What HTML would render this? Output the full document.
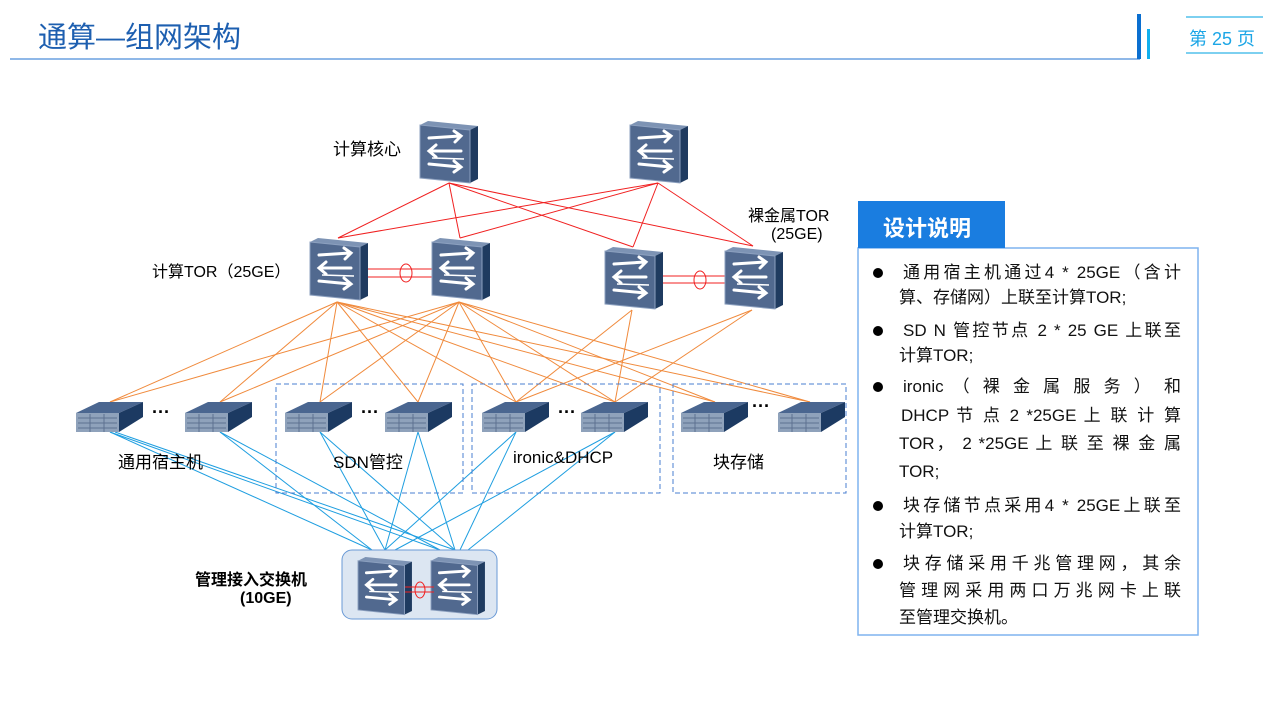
<!DOCTYPE html>
<html><head><meta charset="utf-8"><style>
body{margin:0;width:1280px;height:720px;background:#fff;position:relative;overflow:hidden;font-family:"Liberation Sans","Noto Sans CJK SC",sans-serif;}
.a{position:absolute;white-space:nowrap;}
.t{position:absolute;left:899px;width:282px;font-size:17px;color:#111;line-height:22px;white-space:nowrap;}
.j{text-align:justify;text-align-last:justify;}
.b{position:absolute;left:873px;width:10px;height:10px;border-radius:50%;background:#000;}
</style></head><body>
<div class="a" style="left:38px;top:14px;font-size:29px;color:#1d5fb0;">通算—组网架构</div>
<div class="a" style="left:10px;top:58px;width:1130px;height:2px;background:#8fb8e8;"></div>
<div class="a" style="left:1137px;top:14px;width:4px;height:45px;background:#0a6fd0;"></div>
<div class="a" style="left:1147px;top:29px;width:3px;height:30px;background:#12b0ee;"></div>
<div class="a" style="left:1186px;top:16px;width:77px;height:2px;background:#7dd0f0;"></div>
<div class="a" style="left:1186px;top:52px;width:77px;height:2px;background:#7dd0f0;"></div>
<div class="a" style="left:1189px;top:25px;font-size:18px;color:#1ca6e6;">第 25 页</div>

<svg class="a" style="left:0;top:0" width="1280" height="720">
<defs>
<g id="sw">
<polygon points="0,4 8,0 58,5 50,9" fill="#7d93b4"/>
<polygon points="50,9 58,5 58,58 50,62" fill="#1f3b60"/>
<polygon points="0,4 50,9 50,62 0,57" fill="#51698f" stroke="#8ca0bf" stroke-width="1"/>
<g stroke="#fff" stroke-width="3" fill="none" stroke-linecap="round">
<path d="M9,17 L40,15 M34,10 L41,15 L35,21"/>
<path d="M41,30 L10,30 M16,24 L9,30 L16,36"/>
<path d="M9,43 L40,46 M34,40 L41,46 L34,51"/>
</g>
<line x1="12" y1="37" x2="44" y2="38" stroke="#fff" stroke-width="1.5"/>
</g>
<g id="sv">
<polygon points="0,11 23,0 67,0 43,11" fill="#4a6690"/>
<polygon points="43,11 67,0 67,15 43,30" fill="#1c3a62"/>
<rect x="0" y="11" width="43" height="19" fill="#8fa2bb"/>
<g stroke="#5d7190" stroke-width="1"><line x1="2" y1="16" x2="41" y2="16"/><line x1="2" y1="21" x2="41" y2="21"/><line x1="2" y1="26" x2="41" y2="26"/><line x1="14" y1="12" x2="14" y2="30"/><line x1="28" y1="12" x2="28" y2="30"/></g>
</g>
</defs>
<g stroke="#f02020" stroke-width="1" fill="none">
<line x1="449" y1="183" x2="338" y2="238"/><line x1="449" y1="183" x2="460" y2="238"/><line x1="449" y1="183" x2="633" y2="247"/><line x1="449" y1="183" x2="753" y2="246"/>
<line x1="658" y1="183" x2="338" y2="238"/><line x1="658" y1="183" x2="460" y2="238"/><line x1="658" y1="183" x2="633" y2="247"/><line x1="658" y1="183" x2="753" y2="246"/>
<line x1="366" y1="269" x2="434" y2="269"/><line x1="366" y1="277" x2="434" y2="277"/><ellipse cx="406" cy="273" rx="6" ry="9"/>
<line x1="660" y1="276" x2="727" y2="276"/><line x1="660" y1="283" x2="727" y2="283"/><ellipse cx="700" cy="280" rx="6" ry="9"/>
</g>
<g stroke="#f08a3c" stroke-width="1">
<line x1="337" y1="302" x2="110" y2="402"/><line x1="337" y1="302" x2="220" y2="402"/><line x1="337" y1="302" x2="320" y2="402"/><line x1="337" y1="302" x2="418" y2="402"/><line x1="337" y1="302" x2="516" y2="402"/><line x1="337" y1="302" x2="615" y2="402"/><line x1="337" y1="302" x2="715" y2="402"/><line x1="337" y1="302" x2="810" y2="402"/>
<line x1="459" y1="302" x2="110" y2="402"/><line x1="459" y1="302" x2="220" y2="402"/><line x1="459" y1="302" x2="320" y2="402"/><line x1="459" y1="302" x2="418" y2="402"/><line x1="459" y1="302" x2="516" y2="402"/><line x1="459" y1="302" x2="615" y2="402"/><line x1="459" y1="302" x2="715" y2="402"/><line x1="459" y1="302" x2="810" y2="402"/>
<line x1="632" y1="310" x2="516" y2="402"/><line x1="632" y1="310" x2="615" y2="402"/><line x1="752" y1="310" x2="516" y2="402"/><line x1="752" y1="310" x2="615" y2="402"/>
</g>
<g stroke="#1e9ee0" stroke-width="1">
<line x1="110" y1="432" x2="372" y2="550"/><line x1="110" y1="432" x2="440" y2="550"/><line x1="115" y1="432" x2="455" y2="550"/>
<line x1="220" y1="432" x2="372" y2="550"/><line x1="220" y1="432" x2="440" y2="550"/>
<line x1="320" y1="432" x2="385" y2="550"/><line x1="320" y1="432" x2="455" y2="550"/>
<line x1="418" y1="432" x2="385" y2="550"/><line x1="418" y1="432" x2="455" y2="550"/>
<line x1="516" y1="432" x2="385" y2="550"/><line x1="516" y1="432" x2="460" y2="550"/>
<line x1="615" y1="432" x2="395" y2="550"/><line x1="615" y1="432" x2="468" y2="550"/>
</g>
<g stroke="#4a7fd0" stroke-width="1" stroke-dasharray="5,3" fill="none">
<rect x="276" y="384" width="187" height="109"/><rect x="472" y="384" width="188" height="109"/><rect x="673" y="384" width="173" height="109"/>
</g>
<use href="#sw" x="420" y="121"/><use href="#sw" x="630" y="121"/>
<use href="#sw" x="310" y="238"/><use href="#sw" x="432" y="238"/><use href="#sw" x="605" y="247"/><use href="#sw" x="725" y="247"/>
<use href="#sv" x="76" y="402"/><use href="#sv" x="185" y="402"/><use href="#sv" x="285" y="402"/><use href="#sv" x="385" y="402"/><use href="#sv" x="482" y="402"/><use href="#sv" x="581" y="402"/><use href="#sv" x="681" y="402"/><use href="#sv" x="778" y="402"/>
<rect x="342" y="550" width="155" height="69" rx="10" fill="#dce6f2" stroke="#6a9ad6"/>
<g transform="translate(358,557) scale(0.93)"><use href="#sw"/></g>
<g transform="translate(431,557) scale(0.93)"><use href="#sw"/></g>
<g stroke="#f02020" fill="none"><line x1="405" y1="587" x2="434" y2="587"/><line x1="405" y1="592" x2="434" y2="592"/><ellipse cx="420" cy="590" rx="5" ry="8"/></g>
<rect x="858" y="248" width="340" height="387" fill="none" stroke="#7fb3ef" stroke-width="1.5"/>
<rect x="858" y="201" width="147" height="47" fill="#1a7de0"/>
</svg>
<div class="a" style="left:333px;top:135px;font-size:17px;">计算核心</div>
<div class="a" style="left:152px;top:258px;font-size:16px;">计算TOR（25GE）</div>
<div class="a" style="left:748px;top:202px;font-size:16px;">裸金属TOR</div>
<div class="a" style="left:771px;top:226px;font-size:16px;">(25GE)</div>
<div class="a" style="left:152px;top:402px;font-size:18px;font-weight:bold;">···</div>
<div class="a" style="left:361px;top:402px;font-size:18px;font-weight:bold;">···</div>
<div class="a" style="left:558px;top:402px;font-size:18px;font-weight:bold;">···</div>
<div class="a" style="left:752px;top:396px;font-size:18px;font-weight:bold;">···</div>
<div class="a" style="left:118px;top:448px;font-size:17px;">通用宿主机</div>
<div class="a" style="left:333px;top:448px;font-size:17px;">SDN管控</div>
<div class="a" style="left:513px;top:448px;font-size:17px;">ironic&amp;DHCP</div>
<div class="a" style="left:713px;top:448px;font-size:17px;">块存储</div>
<div class="a" style="left:195px;top:566px;font-size:16px;font-weight:bold;">管理接入交换机</div>
<div class="a" style="left:240px;top:590px;font-size:16px;font-weight:bold;">(10GE)</div>
<div class="a" style="left:883px;top:211px;font-size:22px;font-weight:bold;color:#fff;">设计说明</div>

<div class="b" style="top:268px"></div><div class="t j" style="top:262px;left:903px;width:278px">通用宿主机通过4 * 25GE（含计</div>
<div class="t" style="top:287px">算、存储网）上联至计算TOR;</div>
<div class="b" style="top:326px"></div><div class="t j" style="top:320px;left:903px;width:278px">SD N 管控节点 2 * 25 GE 上联至</div>
<div class="t" style="top:345px">计算TOR;</div>
<div class="b" style="top:382px"></div><div class="t j" style="top:376px;left:903px;width:278px">ironic （ 裸 金 属 服 务 ） 和</div>
<div class="t j" style="top:405px;left:901px;width:280px">DHCP 节 点 2 *25GE 上 联 计 算</div>
<div class="t j" style="top:433px">TOR， 2 *25GE 上 联 至 裸 金 属</div>
<div class="t" style="top:461px">TOR;</div>
<div class="b" style="top:501px"></div><div class="t j" style="top:495px;left:903px;width:278px">块存储节点采用4 * 25GE上联至</div>
<div class="t" style="top:521px">计算TOR;</div>
<div class="b" style="top:559px"></div><div class="t j" style="top:553px;left:903px;width:278px">块存储采用千兆管理网，其余</div>
<div class="t j" style="top:580px">管理网采用两口万兆网卡上联</div>
<div class="t" style="top:607px">至管理交换机。</div>
</body></html>
